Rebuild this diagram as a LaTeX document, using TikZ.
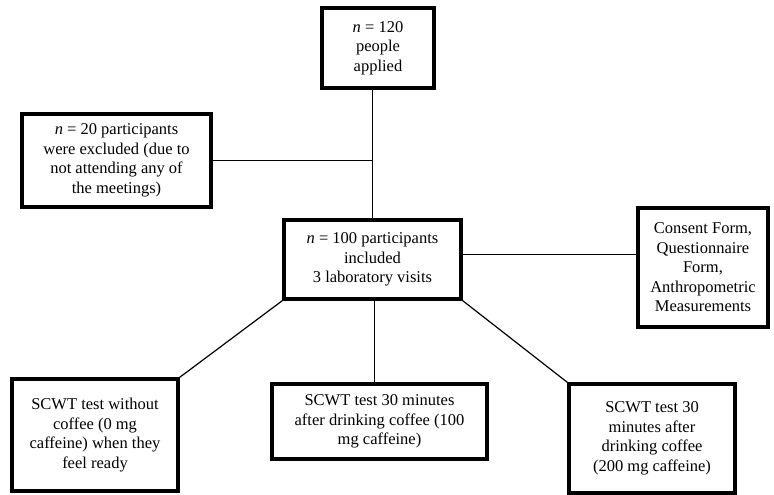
\documentclass[tikz,border=0pt]{standalone}
\usepackage{fontspec}
\setmainfont{Liberation Serif}
\usepackage{tikz}

\tikzset{
  box/.style={draw, line width=3.2pt, align=center, inner sep=2pt,
    font=\fontsize{16.5}{19.5}\selectfont},
  link/.style={line width=1.2pt},
}

\begin{document}
\begin{tikzpicture}[x=1pt,y=-1pt]
        \useasboundingbox (0,0) rectangle (774,495);

        % ---- boxes --------------------------------------
        \node[box, minimum width=112pt, minimum height=80pt] (applied) at (378,48)
          {\textit{n} = 120\\people\\applied};
        \node[box, minimum width=189pt, minimum height=93pt] (excluded) at (116.5,160.5)
          {\textit{n} = 20 participants\\were excluded (due to\\not attending any of\\the meetings)};
        \node[box, minimum width=177pt, minimum height=79pt] (included) at (372.5,259.5)
          {\textit{n} = 100 participants\\included\\3 laboratory visits};
        \node[box, minimum width=130pt, minimum height=119pt] (consent) at (703,267.5)
          {Consent Form,\\Questionnaire\\Form,\\Anthropometric\\Measurements};

        % ---- the three test visits ----------------------
        \node[box, minimum width=166pt, minimum height=112pt] (nocoffee) at (95,435)
          {SCWT test without\\coffee (0 mg\\caffeine) when they\\feel ready};
        \node[box, minimum width=215pt, minimum height=75pt] (hundred) at (379.5,421.5)
          {SCWT test 30 minutes\\after drinking coffee (100\\mg caffeine)};
        \node[box, minimum width=166pt, minimum height=109pt] (twohundred) at (652,438.5)
          {SCWT test 30\\minutes after\\drinking coffee\\(200 mg caffeine)};

        % ---- connectors ---------------------------------
        \draw[link] (included.north) -- (included.north |- applied.south);
        \draw[link] (excluded.east) -- (excluded.east -| included.north);
        \draw[link] ([yshift=5pt]included.east) -- ([yshift=5pt]included.east -| consent.west);
        \draw[link] (included.south west) -- (nocoffee.north east);
        \draw[link] ([xshift=2pt]included.south) -- ([xshift=2pt]included.south |- hundred.north);
        \draw[link] (included.south east) -- (twohundred.north west);
    \end{tikzpicture}
\end{document}
